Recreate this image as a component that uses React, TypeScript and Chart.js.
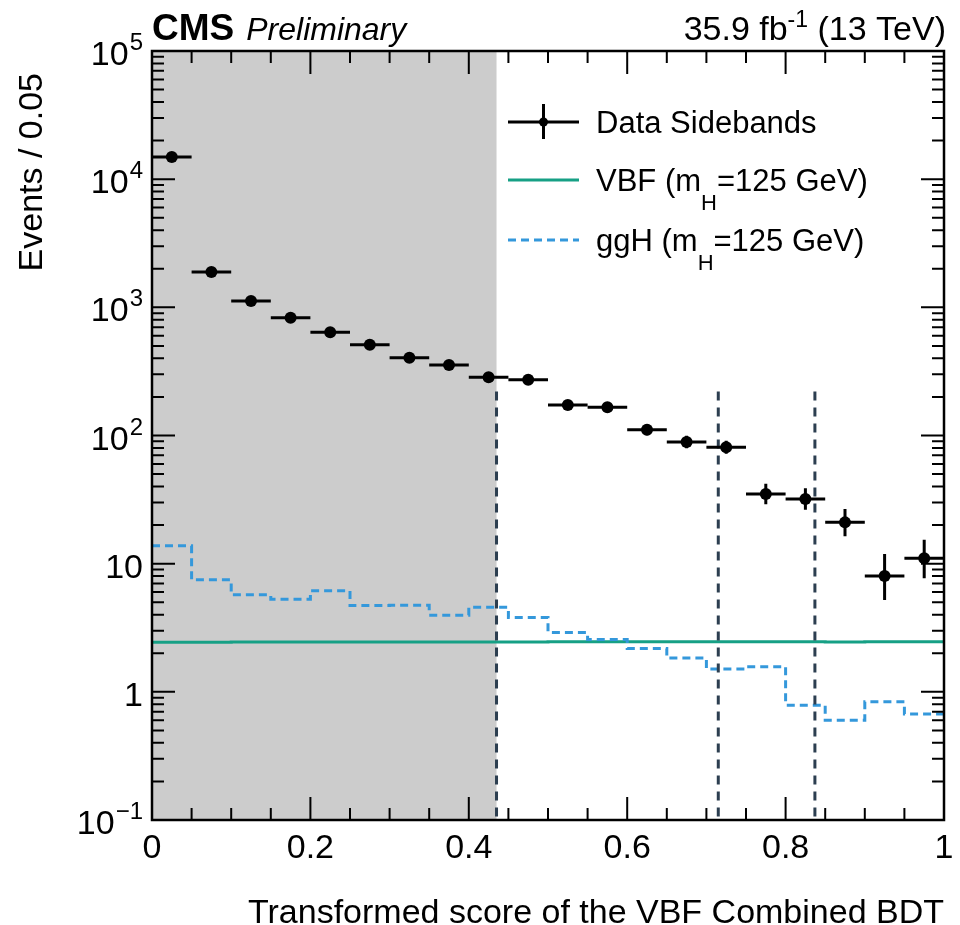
import React, { useEffect, useRef } from 'react';
import { Chart, registerables } from 'chart.js';

Chart.register(...registerables);

// ---------------- data ----------------
const binLowEdges = [0, 0.05, 0.1, 0.15, 0.2, 0.25, 0.3, 0.35, 0.4, 0.45, 0.5, 0.55, 0.6, 0.65, 0.7, 0.75, 0.8, 0.85, 0.9, 0.95];
const binCenters = [0.025, 0.075, 0.125, 0.175, 0.225, 0.275, 0.325, 0.375, 0.425, 0.475, 0.525, 0.575, 0.625, 0.675, 0.725, 0.775, 0.825, 0.875, 0.925, 0.975];
const dataValues = [14900, 1890, 1120, 830, 640, 510, 405, 355, 285, 272, 173, 166, 111, 89, 81, 35, 32, 21, 8, 11];
const dataErrLow = [122, 43.5, 33.5, 29, 25.3, 22.6, 20, 18.8, 16.9, 16.5, 13.2, 12.9, 10.5, 9.4, 9, 5.9, 5.6, 4.6, 2.8, 3.3];
const dataErrHigh = [122, 43.5, 33.5, 29, 25.3, 22.6, 20, 18.8, 16.9, 16.5, 14.2, 13.9, 11.5, 10.4, 10, 7, 6.7, 5.7, 3.9, 4.4];
const vbfValues = [2.44, 2.44, 2.45, 2.45, 2.45, 2.45, 2.45, 2.45, 2.45, 2.45, 2.46, 2.46, 2.46, 2.46, 2.46, 2.46, 2.46, 2.45, 2.46, 2.46];
const gghValues = [13.8, 7.48, 5.71, 5.28, 6.14, 4.71, 4.73, 3.96, 4.58, 3.8, 2.91, 2.56, 2.18, 1.84, 1.51, 1.57, 0.787, 0.601, 0.836, 0.67];
const cutValues = [0.435, 0.715, 0.837];
const cutTop = 220;
const sidebandEnd = 0.435;

const xMajorTicks = [0, 0.2, 0.4, 0.6, 0.8, 1];
const xTickLabels = ['0', '0.2', '0.4', '0.6', '0.8', '1'];
const xMinorTicks = [0.05, 0.1, 0.15, 0.25, 0.3, 0.35, 0.45, 0.5, 0.55, 0.65, 0.7, 0.75, 0.85, 0.9, 0.95];
const yDecades = [0.1, 1, 10, 100, 1000, 10000, 100000];
const yTickBases = ['10', '1', '10', '10', '10', '10', '10'];
const yTickExps = ['\u22121', '', '', '2', '3', '4', '5'];
const yMinorMultipliers = [2, 3, 4, 5, 6, 7, 8, 9];

const xTitle = 'Transformed score of the VBF Combined BDT';
const yTitle = 'Events / 0.05';

const COL_VBF = '#16a085';
const COL_GGH = '#3498db';
const COL_CUT = '#2c3e50';
const FONT = '"Liberation Sans", Arial, Helvetica, sans-serif';

function stepPoints(vals: number[]) {
  const pts = binLowEdges.map((x, i) => ({ x, y: vals[i] }));
  pts.push({ x: 1, y: vals[vals.length - 1] });
  return pts;
}

const rootPlugin = {
  id: 'rootStyle',
  beforeDatasetsDraw(chart: any) {
    const { ctx, chartArea: a, scales } = chart;
    const x1 = scales.x.getPixelForValue(sidebandEnd);
    ctx.save();
    ctx.fillStyle = '#cccccc';
    ctx.fillRect(a.left, a.top, x1 - a.left, a.bottom - a.top);
    ctx.restore();
  },
  beforeDatasetDraw(chart: any, args: any) {
    if (args.index !== 0) return;
    const { ctx, chartArea: a, scales } = chart;
    const xs = scales.x, ys = scales.y;
    ctx.save();
    ctx.beginPath();
    ctx.rect(a.left, a.top, a.right - a.left, a.bottom - a.top);
    ctx.clip();
    ctx.strokeStyle = '#000';
    ctx.lineWidth = 3;
    ctx.lineCap = 'butt';
    dataValues.forEach((v, i) => {
      const px = xs.getPixelForValue(binCenters[i]);
      const py = ys.getPixelForValue(v);
      const xl = xs.getPixelForValue(binLowEdges[i]);
      const xr = xs.getPixelForValue(i + 1 < binLowEdges.length ? binLowEdges[i + 1] : 1);
      ctx.beginPath();
      ctx.moveTo(xl, py);
      ctx.lineTo(xr, py);
      ctx.moveTo(px, ys.getPixelForValue(v + dataErrHigh[i]));
      ctx.lineTo(px, ys.getPixelForValue(Math.max(v - dataErrLow[i], 0.1)));
      ctx.stroke();
    });
    ctx.restore();
  },
  afterDraw(chart: any) {
    const { ctx, chartArea: a, scales } = chart;
    const xs = scales.x, ys = scales.y;
    ctx.save();
    ctx.strokeStyle = '#000';
    ctx.fillStyle = '#000';
    // frame
    ctx.lineWidth = 2.5;
    ctx.strokeRect(a.left, a.top, a.right - a.left, a.bottom - a.top);
    // ticks
    ctx.lineWidth = 2;
    const MAJ = 23, MIN = 12;
    ctx.beginPath();
    xMajorTicks.forEach((v) => {
      const p = xs.getPixelForValue(v);
      ctx.moveTo(p, a.bottom); ctx.lineTo(p, a.bottom - MAJ);
      ctx.moveTo(p, a.top); ctx.lineTo(p, a.top + MAJ);
    });
    xMinorTicks.forEach((v) => {
      const p = xs.getPixelForValue(v);
      ctx.moveTo(p, a.bottom); ctx.lineTo(p, a.bottom - MIN);
      ctx.moveTo(p, a.top); ctx.lineTo(p, a.top + MIN);
    });
    yDecades.forEach((d, i) => {
      const p = ys.getPixelForValue(d);
      ctx.moveTo(a.left, p); ctx.lineTo(a.left + MAJ, p);
      ctx.moveTo(a.right, p); ctx.lineTo(a.right - MAJ, p);
      if (i < yDecades.length - 1) {
        yMinorMultipliers.forEach((m) => {
          const q = ys.getPixelForValue(d * m);
          ctx.moveTo(a.left, q); ctx.lineTo(a.left + MIN, q);
          ctx.moveTo(a.right, q); ctx.lineTo(a.right - MIN, q);
        });
      }
    });
    ctx.stroke();

    // x tick labels
    ctx.font = `34px ${FONT}`;
    ctx.textAlign = 'center';
    ctx.textBaseline = 'alphabetic';
    xMajorTicks.forEach((v, i) => {
      ctx.fillText(xTickLabels[i], xs.getPixelForValue(v), a.bottom + 38);
    });
    // y tick labels
    const labelRight = a.left - 9;
    yDecades.forEach((d, i) => {
      const p = ys.getPixelForValue(d);
      const base = yTickBases[i];
      const exp = yTickExps[i];
      ctx.textAlign = 'left';
      ctx.font = `24px ${FONT}`;
      const ew = exp ? ctx.measureText(exp).width + 1 : 0;
      ctx.font = `34px ${FONT}`;
      const bw = ctx.measureText(base).width;
      const x0 = labelRight - ew - bw;
      ctx.fillText(base, x0, p + 14);
      if (exp) {
        ctx.font = `24px ${FONT}`;
        ctx.fillText(exp, x0 + bw + 1, p - 1);
      }
    });

    // axis titles
    ctx.font = `34px ${FONT}`;
    ctx.textAlign = 'right';
    ctx.fillText(xTitle, a.right, a.bottom + 103);
    ctx.save();
    ctx.translate(42, a.top + 22);
    ctx.rotate(-Math.PI / 2);
    ctx.textAlign = 'right';
    ctx.fillText(yTitle, 0, 0);
    ctx.restore();

    // CMS Preliminary
    ctx.textAlign = 'left';
    ctx.font = `bold 37px ${FONT}`;
    ctx.fillText('CMS', a.left, 40);
    const cw = ctx.measureText('CMS').width;
    ctx.font = `italic 32px ${FONT}`;
    ctx.fillText('Preliminary', a.left + cw + 12, 40);

    // lumi
    const p1 = '35.9 fb', p2 = '-1', p3 = ' (13 TeV)';
    ctx.font = `34px ${FONT}`;
    const w1 = ctx.measureText(p1).width;
    const w3 = ctx.measureText(p3).width;
    ctx.font = `23px ${FONT}`;
    const w2 = ctx.measureText(p2).width;
    const lx = a.right + 2 - (w1 + w2 + w3);
    ctx.font = `34px ${FONT}`;
    ctx.fillText(p1, lx, 40);
    ctx.font = `23px ${FONT}`;
    ctx.fillText(p2, lx + w1, 27);
    ctx.font = `34px ${FONT}`;
    ctx.fillText(p3, lx + w1 + w2, 40);

    // legend
    const lx0 = 508, lx1 = 579, lxc = 543.5, tx = 596;
    ctx.lineWidth = 3;
    ctx.strokeStyle = '#000';
    ctx.beginPath();
    ctx.moveTo(lx0, 122); ctx.lineTo(lx1, 122);
    ctx.moveTo(lxc, 104); ctx.lineTo(lxc, 139);
    ctx.stroke();
    ctx.beginPath();
    ctx.arc(lxc, 122, 4.5, 0, Math.PI * 2);
    ctx.fill();
    ctx.font = `31px ${FONT}`;
    ctx.fillText('Data Sidebands', tx, 133);

    ctx.strokeStyle = COL_VBF;
    ctx.beginPath();
    ctx.moveTo(lx0, 180); ctx.lineTo(lx1, 180);
    ctx.stroke();
    ctx.strokeStyle = COL_GGH;
    ctx.setLineDash([8, 5]);
    ctx.beginPath();
    ctx.moveTo(lx0, 240); ctx.lineTo(lx1, 240);
    ctx.stroke();
    ctx.setLineDash([]);

    const drawSub = (pre: string, y: number) => {
      ctx.font = `31px ${FONT}`;
      ctx.fillText(pre + ' (m', tx, y);
      let w = ctx.measureText(pre + ' (m').width;
      ctx.font = `22px ${FONT}`;
      ctx.fillText('H', tx + w, y + 19);
      w += ctx.measureText('H').width;
      ctx.font = `31px ${FONT}`;
      ctx.fillText('=125 GeV)', tx + w, y);
    };
    ctx.fillStyle = '#000';
    drawSub('VBF', 191);
    drawSub('ggH', 251);
    ctx.restore();
  },
};

export default function App() {
  const ref = useRef<HTMLCanvasElement | null>(null);
  useEffect(() => {
    if (!ref.current) return;
    const cutDatasets = cutValues.map((c) => ({
      type: 'line' as const,
      data: [{ x: c, y: cutTop }, { x: c, y: 0.1 }],
      borderColor: COL_CUT,
      borderWidth: 3,
      borderDash: [9, 7],
      pointRadius: 0,
      fill: false,
    }));
    const chart = new Chart(ref.current, {
      type: 'scatter',
      data: {
        datasets: [
          {
            type: 'scatter',
            label: 'Data Sidebands',
            data: binCenters.map((x, i) => ({ x, y: dataValues[i] })),
            pointRadius: 6,
            pointBackgroundColor: '#000',
            pointBorderColor: '#000',
            pointBorderWidth: 0,
            showLine: false,
          } as any,
          ...cutDatasets,
          {
            type: 'line',
            label: 'ggH',
            data: stepPoints(gghValues),
            stepped: 'before',
            borderColor: COL_GGH,
            borderWidth: 3,
            borderDash: [8, 5],
            pointRadius: 0,
            fill: false,
          } as any,
          {
            type: 'line',
            label: 'VBF',
            data: stepPoints(vbfValues),
            stepped: 'before',
            borderColor: COL_VBF,
            borderWidth: 3,
            pointRadius: 0,
            fill: false,
          } as any,
        ],
      },
      options: {
        animation: false,
        responsive: false,
        devicePixelRatio: 1,
        layout: { padding: { left: 152, top: 51, right: 16, bottom: 105 } },
        plugins: { legend: { display: false }, tooltip: { enabled: false }, title: { display: false } },
        scales: {
          x: { type: 'linear', min: 0, max: 1, display: false },
          y: { type: 'logarithmic', min: 0.1, max: 100000, display: false },
        },
      },
      plugins: [rootPlugin],
    });
    return () => chart.destroy();
  }, []);
  return (
    <div style={{ position: 'fixed', left: 0, top: 0, width: 960, height: 925, background: '#fff' }}>
      <canvas ref={ref} width={960} height={925} style={{ width: 960, height: 925, display: 'block' }} />
    </div>
  );
}
